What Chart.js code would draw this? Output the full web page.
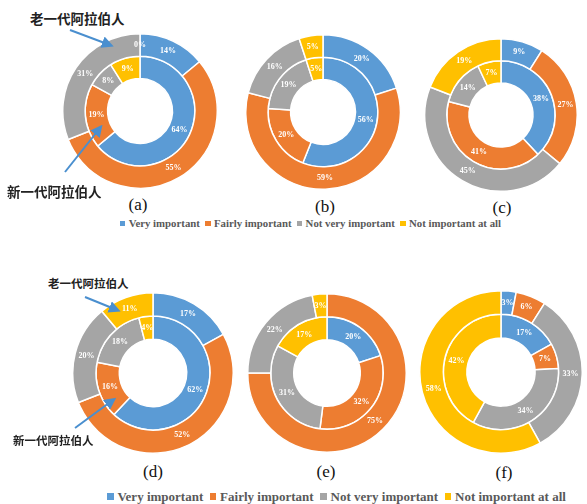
<!DOCTYPE html>
<html>
<head>
<meta charset="utf-8">
<script src="https://cdn.jsdelivr.net/npm/chart.js@4.4.0/dist/chart.umd.min.js"></script>
<style>
  body { margin: 0; background: #fff; }
  #wrap { position: relative; width: 587px; height: 504px; overflow: hidden; font-family: "Liberation Serif", "DejaVu Serif", serif; }
  .pie { position: absolute; }
  .tag { position: absolute; font-size: 17px; color: #111; transform: translate(-50%, -50%); }
  .cn { position: absolute; font-family: "Noto Sans CJK SC", sans-serif; font-weight: bold; color: #222; white-space: nowrap; transform: translateY(-50%); }
  .legend { position: absolute; white-space: nowrap; font-family: "Liberation Serif", serif; font-weight: bold; color: #595959; transform: translateY(-50%); }
  .legend i { display: inline-block; width: 0.5em; height: 0.5em; margin: 0 0.3em 0 0.5em; vertical-align: 0.1em; }
  svg { position: absolute; left: 0; top: 0; }
</style>
</head>
<body>
<div id="wrap"></div>
<script>
var categories = ['Very important', 'Fairly important', 'Not very important', 'Not important at all'];
var colors = ['#5B9BD5', '#ED7D31', '#A5A5A5', '#FFC000'];
var panels = ['(a)', '(b)', '(c)', '(d)', '(e)', '(f)'];

// outer ring = older generation, inner ring = younger generation
var olderA = [14, 55, 31, 0];
var youngerA = [64, 19, 8, 9];
var olderB = [20, 59, 16, 5];
var youngerB = [56, 20, 19, 5];
var olderC = [9, 27, 45, 19];
var youngerC = [38, 41, 14, 7];
var olderD = [17, 52, 20, 11];
var youngerD = [62, 16, 18, 4];
var olderE = [0, 75, 22, 3];
var youngerE = [20, 32, 31, 17];
var olderF = [3, 6, 33, 58];
var youngerF = [17, 7, 34, 42];

var older = [olderA, olderB, olderC, olderD, olderE, olderF];
var younger = [youngerA, youngerB, youngerC, youngerD, youngerE, youngerF];

// layout: centre x, centre y, radius
var boxes = [
  [140, 111, 78], [323, 112, 78], [501, 115, 77],
  [153, 373, 81], [327, 373, 80], [501, 372, 82]
];
var tagPos = [[138, 205], [325, 207], [502, 208], [153, 472], [326, 472], [504, 473]];

var pctLabels = {
  id: 'pctLabels',
  afterDatasetsDraw: function(chart, args, opts) {
    var ctx = chart.ctx;
    ctx.save();
    ctx.font = 'bold 8px "Liberation Serif", serif';
    ctx.fillStyle = '#fff';
    ctx.textAlign = 'center';
    ctx.textBaseline = 'middle';
    chart.data.datasets.forEach(function(ds, i) {
      chart.getDatasetMeta(i).data.forEach(function(arc, j) {
        var v = ds.data[j];
        if (v === 0 && !opts.showZero) return;
        var p = arc.tooltipPosition();
        ctx.fillText(v + '%', p.x, p.y);
      });
    });
    ctx.restore();
  }
};

var wrap = document.getElementById('wrap');

panels.forEach(function(name, k) {
  var b = boxes[k];
  var div = document.createElement('div');
  div.className = 'pie';
  div.style.left = (b[0] - b[2]) + 'px';
  div.style.top = (b[1] - b[2]) + 'px';
  div.style.width = (2 * b[2]) + 'px';
  div.style.height = (2 * b[2]) + 'px';
  var cv = document.createElement('canvas');
  div.appendChild(cv);
  wrap.appendChild(div);

  new Chart(cv.getContext('2d'), {
    type: 'doughnut',
    data: {
      labels: categories,
      datasets: [
        { label: '老一代阿拉伯人', data: older[k], backgroundColor: colors, borderColor: '#fff', borderWidth: 1.5 },
        { label: '新一代阿拉伯人', data: younger[k], backgroundColor: colors, borderColor: '#fff', borderWidth: 1.5 }
      ]
    },
    options: {
      responsive: true,
      maintainAspectRatio: false,
      animation: false,
      cutout: '42%',
      layout: { padding: 0 },
      plugins: {
        legend: { display: false },
        tooltip: { enabled: false },
        pctLabels: { showZero: k === 0 }
      }
    },
    plugins: [pctLabels]
  });

  var t = document.createElement('div');
  t.className = 'tag';
  t.style.left = tagPos[k][0] + 'px';
  t.style.top = tagPos[k][1] + 'px';
  t.textContent = name;
  wrap.appendChild(t);
});

function addLegend(x, y, size) {
  var lg = document.createElement('div');
  lg.className = 'legend';
  lg.style.left = x + 'px';
  lg.style.top = y + 'px';
  lg.style.fontSize = size + 'px';
  categories.forEach(function(c, i) {
    var sw = document.createElement('i');
    sw.style.background = colors[i];
    if (i === 0) sw.style.marginLeft = '0';
    lg.appendChild(sw);
    lg.appendChild(document.createTextNode(c));
  });
  wrap.appendChild(lg);
}
addLegend(120, 223, 10.8);
addLegend(107, 497, 13);

function addText(txt, x, y, size) {
  var d = document.createElement('div');
  d.className = 'cn';
  d.style.left = x + 'px';
  d.style.top = y + 'px';
  d.style.fontSize = size + 'px';
  d.textContent = txt;
  wrap.appendChild(d);
}
addText('老一代阿拉伯人', 30, 18, 13.5);
addText('新一代阿拉伯人', 7, 191, 13.5);
addText('老一代阿拉伯人', 48, 283, 11.5);
addText('新一代阿拉伯人', 13, 440, 11.5);

// pointer arrows
var arrows = [[70, 30, 110, 45], [65, 172, 100, 128], [85, 297, 117, 310], [75, 428, 113, 400]];
var ns = 'http://www.w3.org/2000/svg';
var svg = document.createElementNS(ns, 'svg');
svg.setAttribute('width', 587);
svg.setAttribute('height', 504);
svg.innerHTML = '<defs><marker id="ah" markerWidth="6" markerHeight="6" refX="4" refY="3" orient="auto">' +
  '<path d="M0,0 L6,3 L0,6 z" fill="#4A8FCF"/></marker></defs>';
arrows.forEach(function(a) {
  var l = document.createElementNS(ns, 'line');
  l.setAttribute('x1', a[0]); l.setAttribute('y1', a[1]);
  l.setAttribute('x2', a[2]); l.setAttribute('y2', a[3]);
  l.setAttribute('stroke', '#4A8FCF');
  l.setAttribute('stroke-width', '2');
  l.setAttribute('marker-end', 'url(#ah)');
  svg.appendChild(l);
});
wrap.appendChild(svg);
</script>
</body>
</html>
